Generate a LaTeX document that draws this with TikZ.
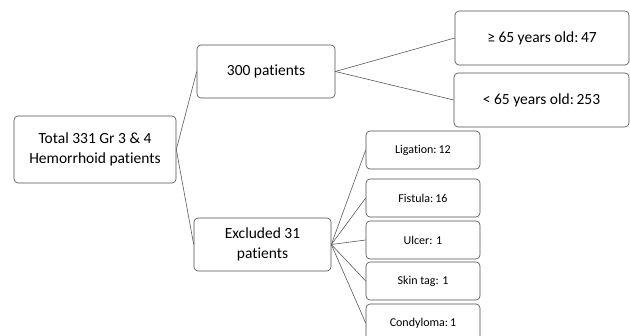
\documentclass[tikz,border=0pt]{standalone}
\usepackage{fontspec}
\setmainfont{Carlito}[Ligatures=NoCommon]
\begin{document}
\begin{tikzpicture}[x=1pt,y=-1pt,
  box/.style={draw=black!70,line width=0.6pt,rounded corners=4pt,inner sep=2pt,align=center,text=black},
  big/.style={box,font=\fontsize{15.5}{19.5}\selectfont},
  small/.style={box,font=\fontsize{12}{14}\selectfont,minimum width=114pt,minimum height=38pt},
  link/.style={draw=black!65,line width=0.6pt}]
\useasboundingbox (0,0) rectangle (630,336);
\begin{scope}
\clip (0,0) rectangle (630,336);
\node[big,minimum width=162pt,minimum height=67pt] (total) at (95,149.5) {Total 331 Gr 3 \& 4\\Hemorrhoid patients};
\node[big,minimum width=138pt,minimum height=53pt] (p300) at (266,71.5) {300 patients};
\node[big,minimum width=137pt,minimum height=53pt] (excl) at (262.5,244.5) {Excluded 31\\patients};
\node[big,minimum width=174pt,minimum height=54pt] (old) at (542,38) {≥ 65 years old:\,47};
\node[big,minimum width=175pt,minimum height=54pt] (young) at (541.5,100) {< 65 years old:\,253};
\node[small] (lig) at (423,150) {Ligation:\,12};
\node[small] (fis) at (423,198) {Fistula:\,16};
\node[small] (ulc) at (423,240) {Ulcer: 1};
\node[small] (skin) at (423,281) {Skin tag: 1};
\node[small] (cond) at (423,323) {Condyloma:\,1};
\draw[link] (total.east) -- (p300.west);
\draw[link] (total.east) -- (excl.west);
\draw[link] (p300.east) -- (old.west);
\draw[link] (p300.east) -- (young.west);
\foreach \n in {lig,fis,ulc,skin,cond} \draw[link] (excl.east) -- (\n.west);
\end{scope}
\end{tikzpicture}
\end{document}
